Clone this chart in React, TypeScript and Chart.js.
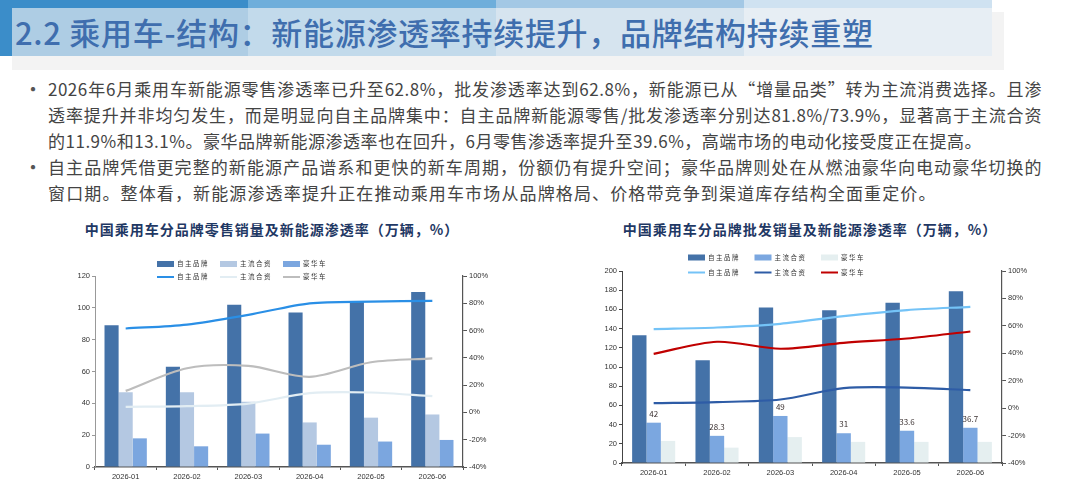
import { useEffect, useRef } from "react";
import { Chart, registerables } from "chart.js";
Chart.register(...registerables);

const months = ["2026-01", "2026-02", "2026-03", "2026-04", "2026-05", "2026-06"];
const brandNames = ["自主品牌", "主流合资", "豪华车"];

// 零售销量（万辆）
const retailDomestic = [89, 63, 102, 97, 104, 110];
const retailJV = [47, 47, 41, 28, 31, 33];
const retailLuxury = [18, 13, 21, 14, 16, 17];
// 零售新能源渗透率（%）
const retailPenDomestic = [61.5, 64.4, 71.5, 80.0, 81.2, 81.8];
const retailPenJV = [4.1, 4.6, 6.5, 14.1, 14.6, 11.9];
const retailPenLuxury = [15.8, 32.4, 34.1, 26.1, 36.8, 39.6];

// 批发销量（万辆）
const wholesaleDomestic = [133, 107, 162, 159, 167, 179];
const wholesaleJV = [42, 28.3, 49, 31, 33.6, 36.7];
const wholesaleLuxury = [23, 16, 27, 22, 22, 22];
// 批发新能源渗透率（%）
const wholesalePenDomestic = [57.6, 58.8, 61.5, 67.1, 71.5, 73.9];
const wholesalePenJV = [3.6, 4.4, 6.3, 14.6, 15.0, 13.1];
const wholesalePenLuxury = [39.6, 48.4, 43.3, 47.6, 50.8, 55.9];

const bodyLines = [
  "2026年6月乘用车新能源零售渗透率已升至62.8%，批发渗透率达到62.8%，新能源已从“增量品类”转为主流消费选择。且渗",
  "透率提升并非均匀发生，而是明显向自主品牌集中：自主品牌新能源零售/批发渗透率分别达81.8%/73.9%，显著高于主流合资",
  "的11.9%和13.1%。豪华品牌新能源渗透率也在回升，6月零售渗透率提升至39.6%，高端市场的电动化接受度正在提高。",
  "自主品牌凭借更完整的新能源产品谱系和更快的新车周期，份额仍有提升空间；豪华品牌则处在从燃油豪华向电动豪华切换的",
  "窗口期。整体看，新能源渗透率提升正在推动乘用车市场从品牌格局、价格带竞争到渠道库存结构全面重定价。",
];
// justified width of each body line (px)
const bodyWidths = [994, 994, 934, 994, 888];

const CJK = '"Noto Sans CJK SC", sans-serif';
const LATIN = '"Liberation Sans", Arial, sans-serif';

interface ComboProps {
  bars: number[][];
  lines: number[][];
  barColors: string[];
  lineColors: string[];
  yMax: number;
  pad: { left: number; right: number; top: number; bottom: number };
  legendPos: { x0: number; dx: number; rows: number[] };
  labelSeries?: number;
  leftBorder: string;
  catPct: number;
}

// draws the two-row legend (bars on top, lines below) overlapping the plot top
const legendGrid = {
  id: "legendGrid",
  afterDraw(chart: any, _args: any, opts: any) {
    const { ctx, chartArea } = chart;
    ctx.save();
    ctx.font = `6.5px ${CJK}`;
    ctx.textBaseline = "middle";
    (ctx as any).letterSpacing = "1.5px";
    chart.data.datasets.forEach((ds: any, i: number) => {
      const row = ds.type === "line" ? 1 : 0;
      const col = row === 0 ? i : i - 3;
      const x = chartArea.left + opts.x0 + col * opts.dx;
      const y = chartArea.top + opts.rows[row];
      if (row === 0) {
        ctx.fillStyle = ds.backgroundColor;
        ctx.fillRect(x, y - 3, 17, 6);
      } else {
        ctx.strokeStyle = ds.borderColor;
        ctx.lineWidth = 2;
        ctx.beginPath();
        ctx.moveTo(x, y);
        ctx.lineTo(x + 17, y);
        ctx.stroke();
      }
      ctx.fillStyle = "#333";
      ctx.fillText(ds.label, x + 20, y);
    });
    ctx.restore();
  },
};

// value labels above one bar series
const barLabels = {
  id: "barLabels",
  afterDatasetsDraw(chart: any, _args: any, opts: any) {
    if (opts.series === undefined || opts.series < 0) return;
    const { ctx } = chart;
    const meta = chart.getDatasetMeta(opts.series);
    const values = chart.data.datasets[opts.series].data;
    ctx.save();
    ctx.font = `8px ${CJK}`;
    ctx.fillStyle = "#3a3030";
    ctx.textAlign = "center";
    ctx.textBaseline = "middle";
    meta.data.forEach((el: any, i: number) => {
      ctx.fillText(String(values[i]), el.x, el.y - 9);
    });
    ctx.restore();
  },
};

const ComboChart = (p: ComboProps) => {
  const canvasRef = useRef<HTMLCanvasElement>(null);

  useEffect(() => {
    if (!canvasRef.current) return;
    const tickFont = { size: 7.5, family: LATIN };
    const datasets: any[] = [
      ...p.bars.map((d, i) => ({
        type: "bar",
        label: brandNames[i],
        data: d,
        backgroundColor: p.barColors[i],
        yAxisID: "y",
        order: 1,
        categoryPercentage: p.catPct,
        barPercentage: 1,
      })),
      ...p.lines.map((d, i) => ({
        type: "line",
        label: brandNames[i],
        data: d,
        borderColor: p.lineColors[i],
        backgroundColor: p.lineColors[i],
        borderWidth: 2.2,
        pointRadius: 0,
        tension: 0.3,
        yAxisID: "y1",
        order: 0,
      })),
    ];

    const chart = new Chart(canvasRef.current, {
      type: "bar",
      data: { labels: months, datasets },
      options: {
        responsive: true,
        maintainAspectRatio: false,
        animation: false,
        layout: { padding: p.pad },
        plugins: {
          legend: { display: false },
          tooltip: { enabled: false },
          legendGrid: p.legendPos,
          barLabels: { series: p.labelSeries ?? -1 },
        } as any,
        scales: {
          x: {
            grid: { display: true, drawOnChartArea: false, tickLength: 3, color: "#555" },
            border: { color: "#555", width: 1.5 },
            ticks: { font: tickFont, color: "#333", padding: 2, maxRotation: 0 },
            afterFit: (s: any) => {
              s.height = 20;
            },
          },
          y: {
            position: "left",
            min: 0,
            max: p.yMax,
            grid: { drawOnChartArea: false, tickLength: 3, color: p.leftBorder },
            border: { color: p.leftBorder, width: 1 },
            ticks: { stepSize: 20, font: tickFont, color: "#333", padding: 2 },
            afterFit: (s: any) => {
              s.width = 40;
            },
          },
          y1: {
            position: "right",
            min: -40,
            max: 100,
            grid: { drawOnChartArea: false, tickLength: 4, color: "#555" },
            border: { color: "#555", width: 1.2 },
            ticks: {
              stepSize: 20,
              font: tickFont,
              color: "#333",
              padding: 2,
              callback: (v: any) => `${v}%`,
            },
            afterFit: (s: any) => {
              s.width = 40;
            },
          },
        },
      } as any,
      plugins: [legendGrid, barLabels],
    });

    return () => {
      chart.destroy();
    };
  }, []);

  return <canvas ref={canvasRef}></canvas>;
};

const App = () => {
  const bandColors = ["#3b8dc9", "#6eaedb", "#a3c8e5", "#cfe2f1"];
  return (
    <div
      style={{
        position: "absolute",
        left: 0,
        top: 0,
        width: 1080,
        height: 491,
        overflow: "hidden",
        background: "#fff",
        fontFamily: CJK,
      }}
    >
      {/* header bands */}
      {bandColors.map((c, i) => (
        <div
          key={c}
          style={{ position: "absolute", left: i * 248, top: 0, width: 248, height: 56, background: c }}
        />
      ))}
      <div style={{ position: "absolute", left: 12, top: 56, width: 992, height: 14, background: "#f3f3f3" }} />
      <div style={{ position: "absolute", left: 992, top: 12, width: 12, height: 44, background: "#f3f3f3" }} />
      <div
        style={{
          position: "absolute",
          left: 12,
          top: 8,
          width: 980,
          height: 48,
          background: "rgba(246,246,246,0.62)",
        }}
      />
      <div
        style={{
          position: "absolute",
          left: 15,
          top: 12,
          fontSize: 31,
          lineHeight: "40px",
          fontWeight: 500,
          letterSpacing: 0.7,
          color: "#3f6eae",
          whiteSpace: "nowrap",
        }}
      >
        2.2 乘用车-结构：新能源渗透率持续提升，品牌结构持续重塑
      </div>

      {/* body text */}
      {[0, 3].map((i) => (
        <div
          key={i}
          style={{ position: "absolute", left: 23, top: 76 + i * 26, fontSize: 20, lineHeight: "26px", color: "#555" }}
        >
          •
        </div>
      ))}
      {bodyLines.map((t, i) => (
        <div
          key={i}
          style={{
            position: "absolute",
            left: 48,
            top: 76 + i * 26,
            width: bodyWidths[i],
            fontSize: 17,
            lineHeight: "26px",
            color: "#444",
            letterSpacing: 0.5,
            whiteSpace: "nowrap",
            textAlign: "justify",
            textAlignLast: "justify",
          }}
        >
          {t}
        </div>
      ))}

      {/* chart titles */}
      {[
        { t: "中国乘用车分品牌零售销量及新能源渗透率（万辆，%）", cx: 272 },
        { t: "中国乘用车分品牌批发销量及新能源渗透率（万辆，%）", cx: 810 },
      ].map((h) => (
        <div
          key={h.t}
          style={{
            position: "absolute",
            left: h.cx - 250,
            width: 500,
            top: 219,
            textAlign: "center",
            fontSize: 14,
            lineHeight: "20px",
            fontWeight: 700,
            letterSpacing: 1,
            color: "#1f3864",
          }}
        >
          {h.t}
        </div>
      ))}

      <div style={{ position: "absolute", left: 0, top: 240, width: 540, height: 251 }}>
        <ComboChart
          bars={[retailDomestic, retailJV, retailLuxury]}
          lines={[retailPenDomestic, retailPenJV, retailPenLuxury]}
          barColors={["#4472a8", "#b4c8e2", "#7ba6df"]}
          lineColors={["#2a8fe6", "#e2edf3", "#bdbdbd"]}
          yMax={120}
          pad={{ left: 55, right: 37, top: 36, bottom: 4 }}
          legendPos={{ x0: 62, dx: 63, rows: [-12, 1] }}
          leftBorder="#999"
          catPct={0.69}
        />
      </div>
      <div style={{ position: "absolute", left: 540, top: 240, width: 540, height: 251 }}>
        <ComboChart
          bars={[wholesaleDomestic, wholesaleJV, wholesaleLuxury]}
          lines={[wholesalePenDomestic, wholesalePenJV, wholesalePenLuxury]}
          barColors={["#4472a8", "#7ba7e0", "#e5eff0"]}
          lineColors={["#74c3f7", "#2e5ca6", "#c00000"]}
          yMax={200}
          pad={{ left: 42, right: 38, top: 31, bottom: 8 }}
          legendPos={{ x0: 66, dx: 66.5, rows: [-13.5, 1.5] }}
          labelSeries={1}
          leftBorder="#444"
          catPct={0.68}
        />
      </div>
    </div>
  );
};

export default App;
